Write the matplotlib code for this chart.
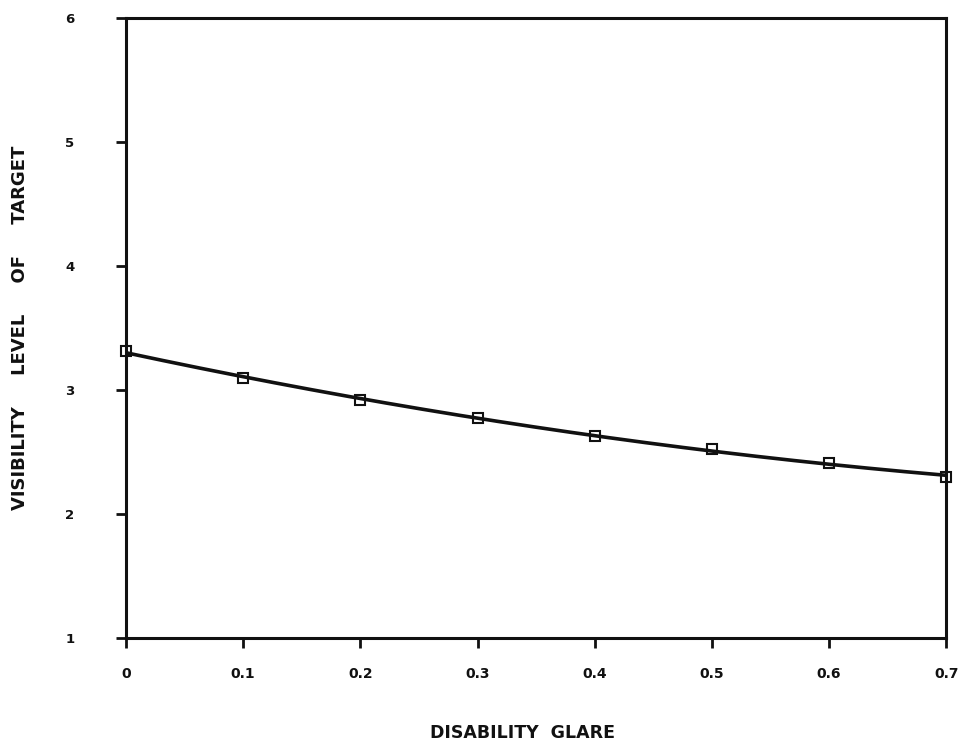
import numpy as np
import matplotlib.pyplot as plt

# disability glare vs. visibility level of the target
glare = [0.0, 0.1, 0.2, 0.3, 0.4, 0.5, 0.6, 0.7]
visibility = [3.31, 3.10, 2.92, 2.77, 2.63, 2.52, 2.41, 2.30]
xticks = [0, 0.1, 0.2, 0.3, 0.4, 0.5, 0.6, 0.7]
xtick_labels = ['0', '0.1', '0.2', '0.3', '0.4', '0.5', '0.6', '0.7']
yticks = [1, 2, 3, 4, 5, 6]

# smooth fitted curve through the measured points
coef = np.polyfit(glare, visibility, 2)
xs = np.linspace(0, 0.7, 200)
ys = np.polyval(coef, xs)

plt.rcParams['font.family'] = 'DejaVu Sans'
plt.rcParams['font.weight'] = 'bold'

fig = plt.figure(figsize=(9.73, 7.44), dpi=100)
ax = fig.add_axes([0.1295, 0.1425, 0.843, 0.8335])

ax.plot(xs, ys, color='#111111', lw=2.6, zorder=3)
ax.plot(glare, visibility, 's', mfc='white', mec='#111111', mew=1.5, ms=7,
        clip_on=False, zorder=2)

ax.set_xlim(0, 0.7)
ax.set_ylim(1, 6)
ax.set_xticks(xticks)
ax.set_xticklabels(xtick_labels)
ax.set_yticks(yticks)

for s in ax.spines.values():
    s.set_linewidth(2.2)
    s.set_color('#111111')

ax.tick_params(axis='x', direction='out', length=7, width=2, pad=14,
               labelsize=10, colors='#111111')
ax.tick_params(axis='y', direction='out', length=7, width=2, pad=30,
               labelsize=9.5, colors='#111111')

# axis titles placed on the figure so they stay inside the canvas
fig.text(0.537, 0.015, 'DISABILITY  GLARE', fontsize=12.5, fontweight='bold',
         ha='center', va='center', color='#111111')
fig.text(0.021, 0.56, 'VISIBILITY     LEVEL     OF     TARGET', fontsize=13,
         fontweight='bold', rotation=90, ha='center', va='center',
         color='#111111')

plt.savefig('out.png', dpi=100)
